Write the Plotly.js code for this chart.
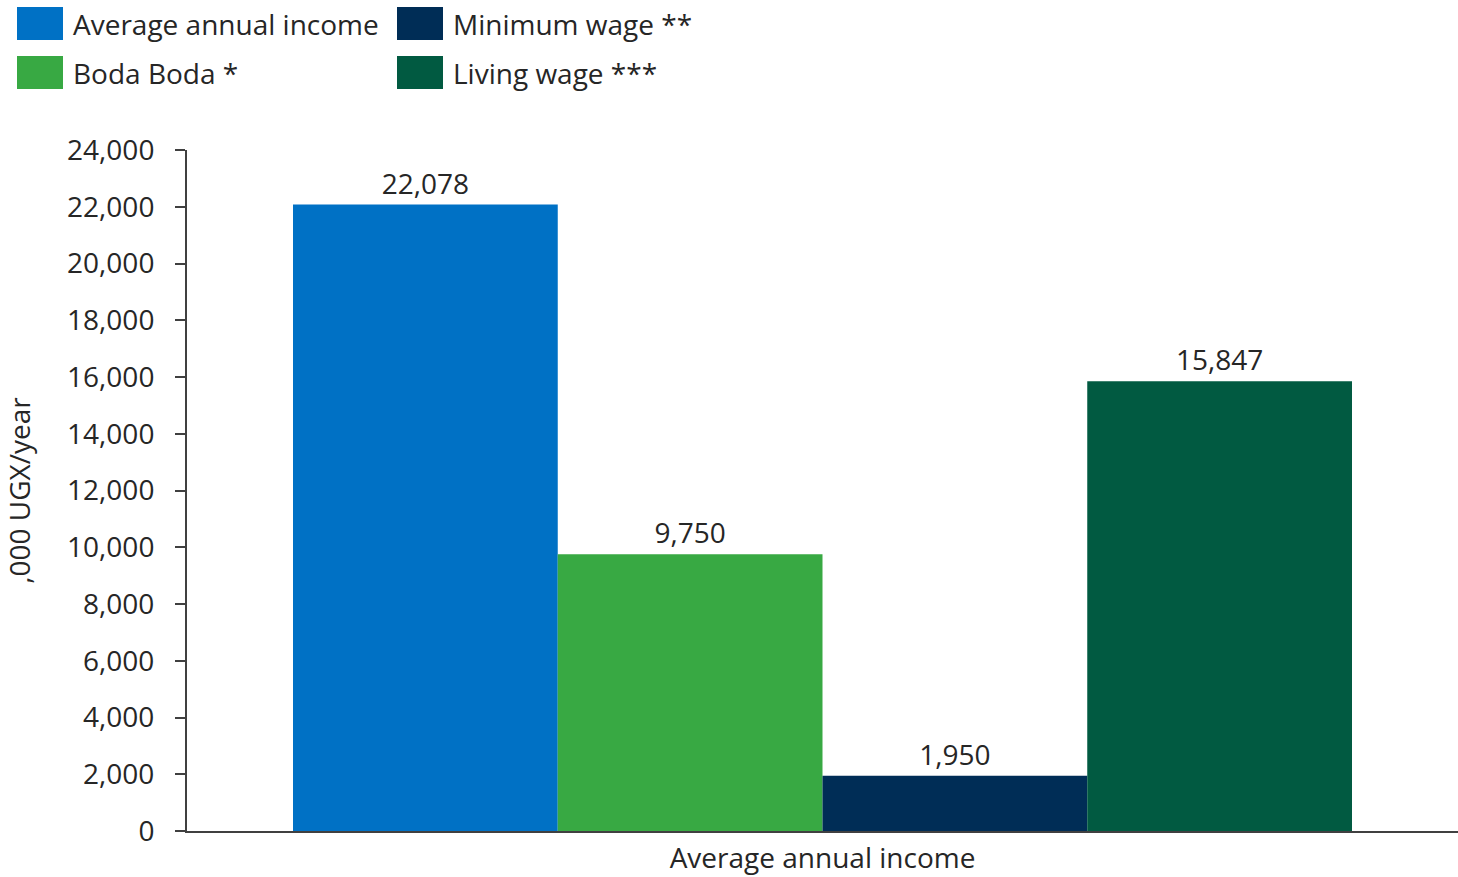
<!DOCTYPE html>
<html>
<head>
<meta charset="utf-8">
<script src="https://cdn.plot.ly/plotly-3.0.1.min.js"></script>
<style>html,body{margin:0;padding:0;background:#fff;}#chart{width:1458px;height:877px;}</style>
</head>
<body>
<div id="chart"></div>
<script>
const category = ["Average annual income"];
const seriesNames = ["Average annual income", "Boda Boda *", "Minimum wage **", "Living wage ***"];
const seriesValues = [22078, 9750, 1950, 15847];
const seriesColors = ["#0071C5", "#38A943", "#002D56", "#015A41"];
const yTickValues = [0, 2000, 4000, 6000, 8000, 10000, 12000, 14000, 16000, 18000, 20000, 22000, 24000];
const yTitle = ",000 UGX/year";

const W = 1458, H = 877;
const M = {l: 187, r: 0, t: 150, b: 46};
const pw = W - M.l - M.r, ph = H - M.t - M.b;
const px = v => (v - M.l) / pw;
const py = v => (H - M.b - v) / ph;

const FONT = "Open Sans, Noto Sans, sans-serif";
const TXT = "#262626";
const FS = 28;

const traces = seriesNames.map((n, i) => ({
  type: "bar",
  name: n,
  x: category,
  y: [seriesValues[i]],
  marker: {color: seriesColors[i], line: {width: 0}},
  text: [seriesValues[i]],
  texttemplate: "%{y:,}",
  textposition: "outside",
  cliponaxis: false,
  textfont: {family: FONT, size: FS, color: TXT},
  hoverinfo: "skip"
}));

// manual legend (2 columns x 2 rows, large swatches)
const legendCols = [17, 397];
const legendRows = [7, 56];
const shapes = [];
const annotations = [];
seriesNames.forEach((n, i) => {
  const col = i === 0 || i === 1 ? 0 : 1;
  const row = i === 0 || i === 2 ? 0 : 1;
  const x0 = legendCols[col], y0 = legendRows[row];
  shapes.push({type: "rect", xref: "paper", yref: "paper",
    x0: px(x0), x1: px(x0 + 46), y0: py(y0 + 33), y1: py(y0),
    fillcolor: seriesColors[i], line: {width: 0}});
  annotations.push({xref: "paper", yref: "paper", x: px(x0 + 54), y: py(y0 + 17),
    xanchor: "left", yanchor: "middle", showarrow: false, text: n,
    font: {family: FONT, size: FS, color: TXT}});
});

const layout = {
  width: W, height: H,
  margin: M,
  paper_bgcolor: "#fff", plot_bgcolor: "#fff",
  showlegend: false,
  barmode: "group",
  bargap: 0.1668,
  bargroupgap: 0,
  font: {family: FONT, size: FS, color: TXT},
  xaxis: {
    showline: true, linecolor: "#404040", linewidth: 2,
    ticks: "", showgrid: false, zeroline: false,
    tickfont: {family: FONT, size: FS, color: TXT},
    ticklabelstandoff: 1,
    fixedrange: true
  },
  yaxis: {
    range: [0, 24000], tickvals: yTickValues, tickformat: ",d",
    showline: true, linecolor: "#404040", linewidth: 2,
    ticks: "outside", ticklen: 10, tickwidth: 2, tickcolor: "#404040",
    ticklabelstandoff: 15,
    showgrid: false, zeroline: false,
    tickfont: {family: FONT, size: FS, color: TXT},
    title: {text: yTitle, font: {family: FONT, size: FS, color: TXT}, standoff: 29},
    fixedrange: true
  },
  shapes: shapes,
  annotations: annotations
};

Plotly.newPlot("chart", traces, layout, {displayModeBar: false, staticPlot: true});
</script>
</body>
</html>
